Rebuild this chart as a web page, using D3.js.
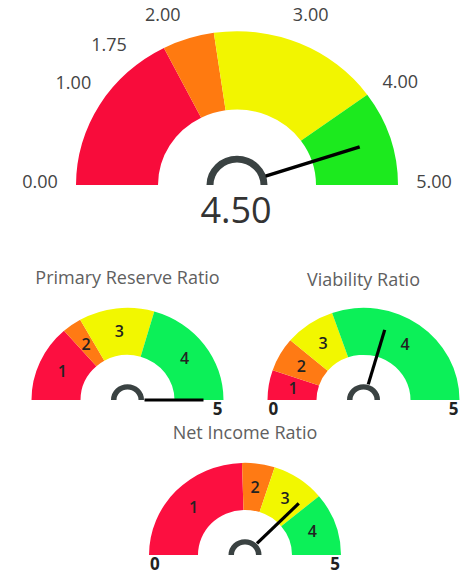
<!DOCTYPE html>
<html><head><meta charset="utf-8">
<script src="https://cdn.jsdelivr.net/npm/d3@7"></script>
<style>body{margin:0;background:#fff}</style>
</head><body><svg id="c" width="471" height="577"></svg>
<script>
// ---- data ----
const mainTickLabels = ["0.00","1.00","1.75","2.00","3.00","4.00","5.00"];
const mainTickPos = [0.025, 0.94, 1.375, 1.885, 3.11, 4.055, 4.975];
const mainBands = [0, 1.75, 2.27, 4.0, 5];
const mainValue = 4.5;
const mainValueLabel = "4.50";

const gaugeTitles = ["Primary Reserve Ratio", "Viability Ratio", "Net Income Ratio"];
const gaugeBands = [[0, 1.35, 1.68, 2.95, 5], [0, 0.525, 1.12, 1.97, 5], [0, 2.45, 3.0, 3.9, 5]];
const gaugeValues = [5.0, 2.95, 3.75];
const bandLabels = ["1", "2", "3", "4"];
const endLabels = [["", "5"], ["0", "5"], ["0", "5"]];

const mainColors = ["#f80c3b", "#ff7a10", "#f2f500", "#1cea1e"];
const smallColors = ["#fc0f40", "#ff7a14", "#f2f700", "#0cf058"];

// ---- drawing ----
const svg = d3.select("#c");
const ang = d3.scaleLinear().domain([0, 5]).range([-Math.PI / 2, Math.PI / 2]).clamp(true);
const FONT = "'Open Sans', sans-serif";

function gauge(cfg) {
  const g = svg.append("g").attr("transform", `translate(${cfg.cx},${cfg.cy}) scale(1,${cfg.sy})`);
  const arc = d3.arc().innerRadius(cfg.ri).outerRadius(cfg.ro);
  const bands = d3.pairs(cfg.bands);
  g.selectAll("path.band").data(bands).join("path")
    .attr("class", "band")
    .attr("d", d => arc({startAngle: ang(d[0]), endAngle: ang(d[1])}))
    .attr("fill", (d, i) => cfg.colors[i]);
  g.append("path")
    .attr("d", d3.arc().innerRadius(cfg.hub[0]).outerRadius(cfg.hub[1])({startAngle: -Math.PI / 2, endAngle: Math.PI / 2}))
    .attr("fill", "#3a4242");
  const a = ang(cfg.value);
  g.append("line")
    .attr("x1", cfg.needle[0] * Math.sin(a)).attr("y1", -cfg.needle[0] * Math.cos(a))
    .attr("x2", cfg.needle[1] * Math.sin(a)).attr("y2", -cfg.needle[1] * Math.cos(a))
    .attr("stroke", "#000").attr("stroke-width", cfg.nw);
  return {g, bands};
}

function pt(cx, cy, sy, v, r) {
  const a = ang(v);
  return [cx + r * Math.sin(a), cy - sy * r * Math.cos(a)];
}

// main gauge
const M = {cx: 237, cy: 185, sy: 0.955, ri: 79, ro: 161, bands: mainBands, colors: mainColors,
  hub: [23.5, 30.5], needle: [30, 129], value: mainValue, nw: 3.5};
gauge(M);
svg.selectAll("text.mt").data(mainTickLabels).join("text")
  .attr("class", "mt")
  .attr("x", (d, i) => M.cx + 197 * Math.sin(ang(mainTickPos[i])))
  .attr("y", (d, i) => M.cy - 184 * Math.cos(ang(mainTickPos[i])))
  .attr("dy", "0.35em")
  .attr("text-anchor", "middle")
  .attr("font-family", FONT).attr("font-size", 18)
  .attr("fill", "#444").text(d => d);
svg.append("text").attr("x", 236).attr("y", 223).attr("text-anchor", "middle")
  .attr("font-family", FONT).attr("font-size", 36)
  .attr("fill", "#333").text(mainValueLabel);

// small gauges
const centers = [[127.5, 400], [363.5, 400], [245, 555]];
const titleY = [284, 286, 439];
gaugeTitles.forEach((t, k) => {
  const [cx, cy] = centers[k];
  const cfg = {cx, cy, sy: 0.96, ri: 47, ro: 96, bands: gaugeBands[k], colors: smallColors,
    hub: [11, 16.5], needle: [17, 76], value: gaugeValues[k], nw: 3.2};
  const {bands} = gauge(cfg);
  svg.append("text").attr("x", cx).attr("y", titleY[k]).attr("text-anchor", "middle")
    .attr("font-family", FONT).attr("font-size", 18)
    .attr("fill", "#606060").text(t);
  svg.selectAll(null).data(bands).join("text")
    .attr("x", d => pt(cx, cy, 0.96, (d[0] + d[1]) / 2, 71.5)[0])
    .attr("y", d => pt(cx, cy, 0.96, (d[0] + d[1]) / 2, 71.5)[1])
    .attr("dy", "0.35em").attr("text-anchor", "middle")
    .attr("font-family", FONT).attr("font-size", 16).attr("font-weight", 600)
    .attr("fill", "#222").text((d, i) => bandLabels[i]);
  const [l0, l1] = endLabels[k];
  svg.append("text").attr("x", cx - 96 + 1).attr("y", cy + 15).attr("text-anchor", "start")
    .attr("font-family", FONT).attr("font-size", 17).attr("font-weight", 700)
    .attr("fill", "#222").text(l0);
  svg.append("text").attr("x", cx + 96 - 1).attr("y", cy + 15).attr("text-anchor", "end")
    .attr("font-family", FONT).attr("font-size", 17).attr("font-weight", 700)
    .attr("fill", "#222").text(l1);
});
</script></body></html>
